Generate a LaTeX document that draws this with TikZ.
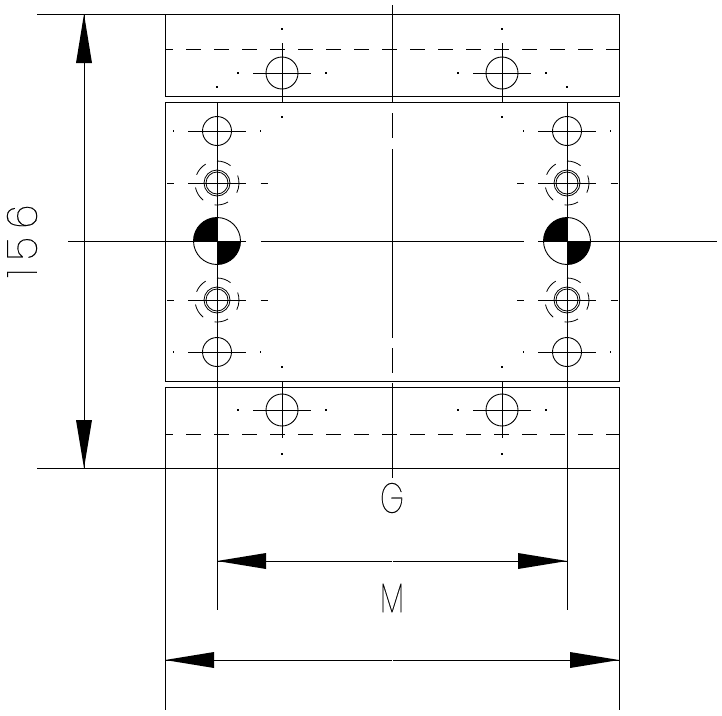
\documentclass[tikz,border=0pt]{standalone}
\usepackage{fontspec}
\setmainfont{Poppins Thin}
\tikzset{
 ln/.style={line width=0.9pt,black},
 finer/.style={line width=0.8pt,black},
 dashln/.style={ln,dash pattern=on 15pt off 13pt,dash phase=7pt},
 dimtext/.style={inner sep=0pt,font=\fontsize{42}{42}\selectfont\addfontfeature{FakeBold=0.4}},
 plate/.style={draw,ln,minimum width=454pt,inner sep=0pt,anchor=north west}
}
\newcommand{\tinydot}[2]{\fill (#1-0.6,#2-0.6) rectangle (#1+0.6,#2+0.6);}
\begin{document}
\begin{tikzpicture}[x=1pt,y=-1pt]
\useasboundingbox (0,0) rectangle (722,715);
\node[plate,minimum height=82pt] (topplate) at (165,14) {};
\node[plate,minimum height=279pt] (midplate) at (165,102) {};
\node[plate,minimum height=81pt] (botplate) at (165,387) {};
\begin{scope}[ln]
% extension lines
\draw (37,14)--(165,14);
\draw (37,468)--(165,468);
\draw (165,468)--(165,710);
\draw (619,468)--(619,710);
\draw (217,102)--(217,610);
\draw (567,102)--(567,610);
% centre lines
\draw (392,5)--(392,102);
\draw (392,113)--(392,138);
\draw (392,149)--(392,338);
\draw (392,348)--(392,373);
\draw (392,383)--(392,478);
\draw (68,241)--(246,241);
\draw (261,241)--(524,241);
\draw (538,241)--(717,241);
% dashed
\draw[dashln] (165,49)--(619,49);
\draw[dashln] (165,434)--(619,434);
% dims
\draw (84,14)--(84,468);
\draw (217,561)--(391.5,561);\draw (392.5,561)--(567,561);
\draw (165,660)--(391.5,660);\draw (392.5,660)--(619,660);
\end{scope}
\fill (84,14)--(76,63)--(92,63)--cycle;
\fill (84,468)--(76,420)--(92,420)--cycle;
\fill (217,561)--(266,553)--(266,569)--cycle;
\fill (567,561)--(518,553)--(518,569)--cycle;
\fill (165,660)--(214,652)--(214,668)--cycle;
\fill (619,660)--(570,652)--(570,668)--cycle;
% top/bottom bolts
\foreach \x in {282,502}{
 \draw[ln] (\x,73) circle (16);
 \draw[ln] (\x-29,73)--(\x+29,73);
 \draw[ln] (\x,43)--(\x,102);
 \tinydot{\x}{29}\tinydot{\x}{117}\tinydot{\x-44}{73}\tinydot{\x+44}{73}
 \draw[ln] (\x,410) circle (16);
 \draw[ln] (\x-29,410)--(\x+29,410);
 \draw[ln] (\x,381)--(\x,438);
 \tinydot{\x}{367}\tinydot{\x}{454}\tinydot{\x-44}{410}\tinydot{\x+44}{410}
}
\foreach \x in {217,567}{
 \tinydot{\x}{87}
 \foreach \y in {131,352}{
  \draw[ln] (\x,\y) circle (14.5);
  \draw[ln] (\x-29,\y)--(\x+29,\y);
  \tinydot{\x-43.5}{\y}\tinydot{\x+43.5}{\y}
 }
 \foreach \y in {183,300}{
  \draw[finer] (\x,\y) circle (13);
  \draw[finer] (\x,\y) circle (11);
  \draw[ln] (\x-29,\y)--(\x+29,\y);
  \draw[ln] (\x-50,\y)--(\x-43,\y);
  \draw[ln] (\x+43.5,\y)--(\x+50.5,\y);
  \begin{scope}[shift={(\x,\y)},yscale=-1]
   \foreach \a/\b in {90/52,20/-26,-60/-96,-129/-168,158/121}{
    \draw[finer] (\a:22) arc (\a:\b:22);
   }
  \end{scope}
 }
 % centre of gravity
 \fill (\x,241)--(\x-23.5,241) arc (180:90:23.5 and -23.5)--cycle;
 \fill (\x,241)--(\x+23.5,241) arc (0:-90:23.5 and -23.5)--cycle;
 \draw[ln] (\x,241) circle (23.5);
}
\node[dimtext,xscale=0.72] (G) at (392,498) {G};
\node[dimtext,xscale=0.7] (M) at (392,598) {M};
\node[dimtext,rotate=90,xscale=0.95] (dim) at (22,241) {\addfontfeature{LetterSpace=20}156};
\end{tikzpicture}
\end{document}
